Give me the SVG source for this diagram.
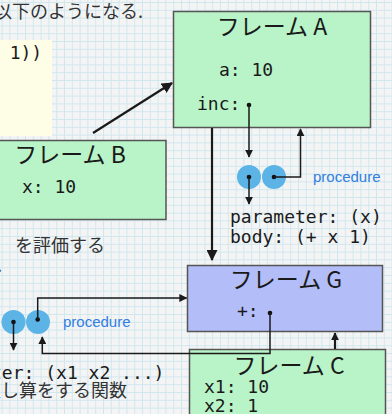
<svg xmlns="http://www.w3.org/2000/svg" width="392" height="414" viewBox="0 0 392 414">
<defs>
<pattern id="grid" x="1.6" y="2" width="7.8" height="7.8" patternUnits="userSpaceOnUse">
<path d="M0 0.5 H7.8 M0.5 0 V7.8" fill="none" stroke="#d0e7ee" stroke-width="1"/>
</pattern>
<marker id="ah" viewBox="0 0 10 10" refX="9" refY="5" markerWidth="8" markerHeight="8" markerUnits="userSpaceOnUse" orient="auto">
<path d="M0 0 L10 5 L0 10 Z" fill="#1a1a1a"/>
</marker>
<marker id="ahb" viewBox="0 0 10 10" refX="9" refY="5" markerWidth="11" markerHeight="11" markerUnits="userSpaceOnUse" orient="auto">
<path d="M0 0 L10 5 L0 10 Z" fill="#1a1a1a"/>
</marker>
</defs>
<style>
.jp{font-family:"Noto Sans CJK JP","Noto Sans",sans-serif;font-size:18px;fill:#333}
.title{font-family:"Noto Sans CJK JP","Noto Sans",sans-serif;font-size:23px;fill:#1a1a1a;text-anchor:middle}
.mono{font-family:"DejaVu Sans Mono","Noto Sans CJK JP",monospace;font-size:18px;fill:#1a1a1a}
.proc{font-family:"Liberation Sans",Arial,sans-serif;font-size:15px;fill:#2f7fe0}
.frame{stroke:#555;stroke-width:1.5}
.green{fill:#b9f3c8}
.blue{fill:#b3bdf7}
.circ{fill:#5bb4e5}
.dot{fill:#111}
.ln{fill:none;stroke:#1a1a1a;stroke-width:1.5}
.lnb{fill:none;stroke:#1a1a1a;stroke-width:2.2}
</style>
<rect width="392" height="414" fill="#f4f4f5"/>
<rect width="392" height="414" fill="url(#grid)"/>

<text class="jp" x="-6" y="18">以下のようになる.</text>
<text class="jp" x="-3" y="272">.</text>

<g id="code">
<rect x="-5" y="40" width="57" height="96" fill="#fefde6"/>
<text class="mono" x="-12" y="59">x 1))</text>
</g>

<g id="frameA">
<rect class="frame green" x="173.5" y="11.5" width="197" height="116"/>
<text class="title" x="272" y="35">フレーム A</text>
<text class="mono" x="219" y="76">a: 10</text>
<text class="mono" x="197" y="110">inc:</text>
<circle class="dot" cx="249" cy="105" r="2.3"/>
</g>

<g id="frameB">
<rect class="frame green" x="-3" y="140.5" width="169" height="79"/>
<text class="title" x="70" y="163">フレーム B</text>
<text class="mono" x="22" y="193">x: 10</text>
</g>

<text class="jp" x="15" y="252">を評価する</text>

<g id="procA">
<circle class="circ" cx="249" cy="177" r="12"/>
<circle class="circ" cx="274" cy="177" r="12"/>
<circle class="dot" cx="249" cy="177" r="2.3"/>
<circle class="dot" cx="274" cy="177" r="2.3"/>
<text class="proc" x="313" y="182">procedure</text>
<text class="mono" x="230" y="223">parameter: (x)</text>
<text class="mono" x="230" y="243">body: (+ x 1)</text>
</g>

<g id="frameG">
<rect class="frame blue" x="187.5" y="265.5" width="195" height="66"/>
<text class="title" x="286" y="288">フレーム G</text>
<text class="mono" x="237" y="317">+:</text>
<circle class="dot" cx="270" cy="313" r="2.3"/>
</g>

<g id="procG">
<circle class="circ" cx="13.5" cy="322" r="12"/>
<circle class="circ" cx="38" cy="322" r="12"/>
<circle class="dot" cx="13.5" cy="322" r="2.3"/>
<circle class="dot" cx="37.7" cy="319.5" r="2.3"/>
<text class="proc" x="63" y="327">procedure</text>
<text class="mono" x="-74" y="379">parameter: (x1 x2 ...)</text>
<text class="jp" x="-17" y="397">足し算をする関数</text>
</g>

<g id="frameC">
<rect class="frame green" x="189.5" y="349.5" width="196" height="70"/>
<text class="title" x="289" y="374">フレーム C</text>
<text class="mono" x="204" y="393">x1: 10</text>
<text class="mono" x="204" y="412">x2:  1</text>
</g>

<g id="connectors">
<line class="lnb" x1="93" y1="133" x2="172" y2="83" marker-end="url(#ahb)"/>
<line class="lnb" x1="212" y1="128" x2="212" y2="260" marker-end="url(#ahb)"/>
<line class="ln" x1="249" y1="105" x2="249" y2="157" marker-end="url(#ah)"/>
<line class="ln" x1="249" y1="177" x2="249" y2="204" marker-end="url(#ah)"/>
<polyline class="ln" points="274,177 300.5,177 300.5,129" marker-end="url(#ah)"/>
<polyline class="ln" points="37.7,319.5 37.7,298 186.5,298" marker-end="url(#ah)"/>
<line class="ln" x1="13.5" y1="322" x2="13.5" y2="350" marker-end="url(#ah)"/>
<polyline class="ln" points="270,313 270,353.5 42.3,353.5 42.3,337" marker-end="url(#ah)"/>
<line class="lnb" x1="335" y1="349" x2="335" y2="333" marker-end="url(#ah)"/>
</g>
</svg>
